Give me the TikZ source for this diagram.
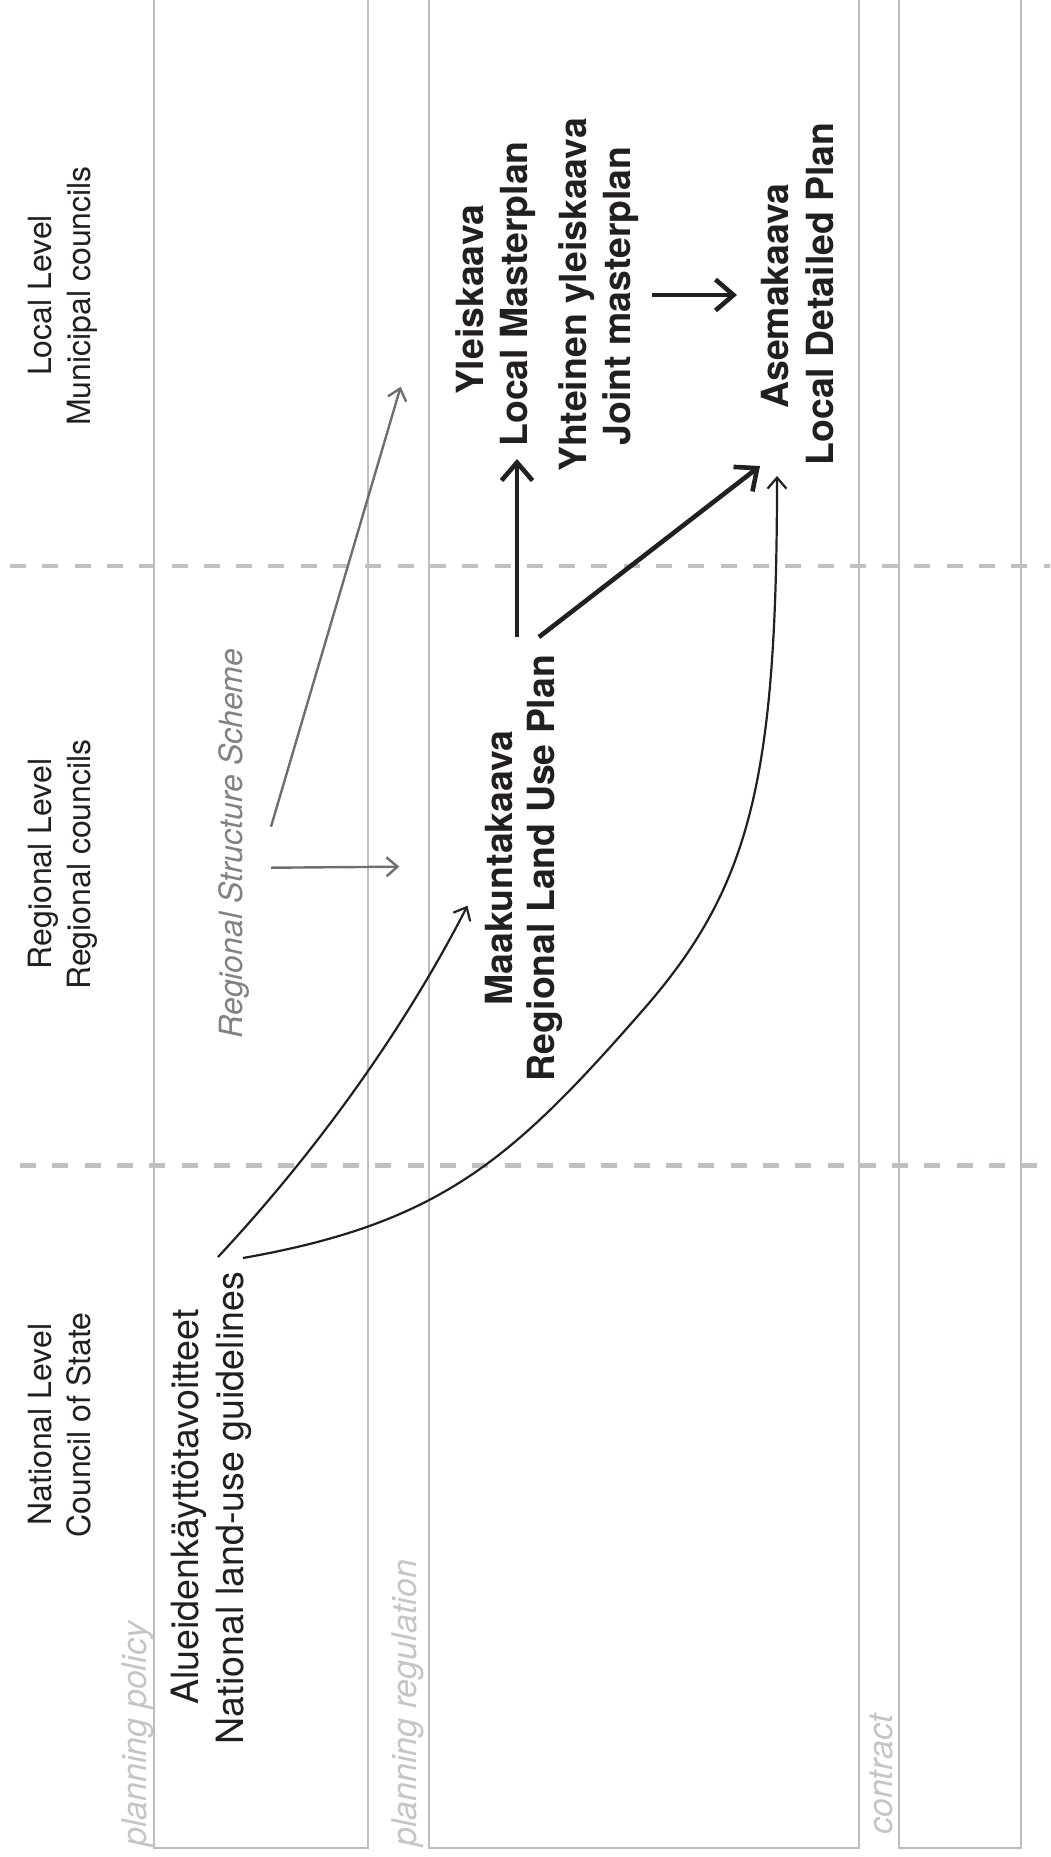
\documentclass[tikz,border=0pt]{standalone}
\usepackage{fontspec}
\setmainfont{TeX Gyre Heros}
\usetikzlibrary{arrows.meta}
\definecolor{ink}{HTML}{231F20}
\definecolor{framegray}{HTML}{BCBEC0}
\definecolor{divider}{HTML}{BFC0C2}
\definecolor{faint}{HTML}{C4C5C7}
\definecolor{midgray}{HTML}{808285}
\definecolor{arrowgray}{HTML}{6D6E71}
\begin{document}
\begin{tikzpicture}[x=1pt,y=-1pt,
  every node/.style={inner sep=0pt, rotate=90, text=ink},
  level/.style={font=\fontsize{32}{38}\selectfont, anchor=base},
  guide/.style={font=\fontsize{37.6}{45}\selectfont, anchor=base},
  plan/.style={font=\fontsize{37.4}{44}\selectfont\bfseries, anchor=base},
  band/.style={font=\fontsize{34}{40}\selectfont\itshape, text=faint, anchor=base west},
  scheme/.style={font=\fontsize{32}{38}\selectfont\itshape, text=midgray, anchor=base},
  frameline/.style={draw=framegray, line width=2.6pt},
  levelsep/.style={draw=divider, line width=4.6pt, dash pattern=on 16pt off 16.3pt},
  major/.style={draw=ink, line width=4.6pt, -{Straight Barb[length=18pt,width=31pt]}},
  minor/.style={draw=ink, line width=2.2pt, -{Straight Barb[length=11pt,width=19pt]}},
  hint/.style={draw=arrowgray, line width=2.4pt, -{Straight Barb[length=11pt,width=19pt]}},
]
\useasboundingbox (0,0) rectangle (1050,1857);

% column frames, open at the top
\draw[frameline] (154,-5) -- (154,1848) -- (368,1848) -- (368,-5);
\draw[frameline] (429,-5) -- (429,1848) -- (859,1848) -- (859,-5);
\draw[frameline] (899,-5) -- (899,1848) -- (1021,1848) -- (1021,-5);

% level separators
\draw[levelsep] (10,566) -- (1050,566);
\draw[levelsep] (20,1165.5) -- (1050,1165.5);

% level labels
\node[level] (locA) at (51.7,295.5) {Local Level};
\node[level] (locB) at (90,296) {Municipal councils};
\node[level] (regA) at (51.7,864) {Regional Level};
\node[level] (regB) at (90,864.5) {Regional councils};
\node[level] (natA) at (51.7,1424.6) {National Level};
\node[level] (natB) at (90,1425) {Council of State};

% instrument bands
\node[band] (policy) at (146,1847) {planning policy};
\node[band] (regulation) at (416,1847) {planning regulation};
\node[band] (contract) at (892,1835) {contract};

% national guidelines
\node[guide] (nlgA) at (198.3,1507) {Alueidenkäyttötavoitteet};
\node[guide] (nlgB) at (243.3,1508) {National land-use guidelines};

% regional structure scheme
\node[scheme] (rss) at (242.7,843.5) {Regional Structure Scheme};

% plans
\node[plan] (maakA) at (512.4,868) {Maakuntakaava};
\node[plan] (maakB) at (554.6,868) {Regional Land Use Plan};
\node[plan] (yleA) at (483.3,300) {Yleiskaava};
\node[plan] (yleB) at (527.3,294) {Local Masterplan};
\node[plan] (yhtA) at (586.7,295) {Yhteinen yleiskaava};
\node[plan] (yhtB) at (630.7,296) {Joint masterplan};
\node[plan] (aseA) at (788.3,296) {Asemakaava};
\node[plan] (aseB) at (833,294) {Local Detailed Plan};

% connector ends
\coordinate (rlup-up) at (517,637);
\coordinate (rlup-diag) at (539,637);
\coordinate (lm-in) at (517,459);
\coordinate (ldp-in-a) at (760,466);
\coordinate (jm-out) at (652,295);
\coordinate (ldp-in-b) at (737,295);
\coordinate (nlg-a) at (218,1257);
\coordinate (nlg-b) at (243,1258);
\coordinate (rlup-in) at (467.5,905.7);
\coordinate (bend) at (643,1010);
\coordinate (ldp-in-c) at (777,476);
\coordinate (rss-a) at (271,826.7);
\coordinate (rss-b) at (271,867.7);
\coordinate (local-in) at (400.7,386.7);
\coordinate (regional-in) at (399.3,866.7);

% plan hierarchy
\draw[major] (rlup-up) -- (lm-in);
\draw[major] (rlup-diag) -- (ldp-in-a);
\draw[major] (jm-out) -- (ldp-in-b);

% guidelines steering regional and local plans
\draw[minor] (nlg-a) .. controls (314.8,1153.2) and (402.6,1032.1) .. (rlup-in);
\draw[minor] (nlg-b) .. controls (440,1223.2) and (511.4,1160.6) .. (bend)
  .. controls (750.2,887.4) and (777,780.6) .. (ldp-in-c);

% informal scheme
\draw[hint] (rss-a) -- (local-in);
\draw[hint] (rss-b) -- (regional-in);
\end{tikzpicture}
\end{document}
